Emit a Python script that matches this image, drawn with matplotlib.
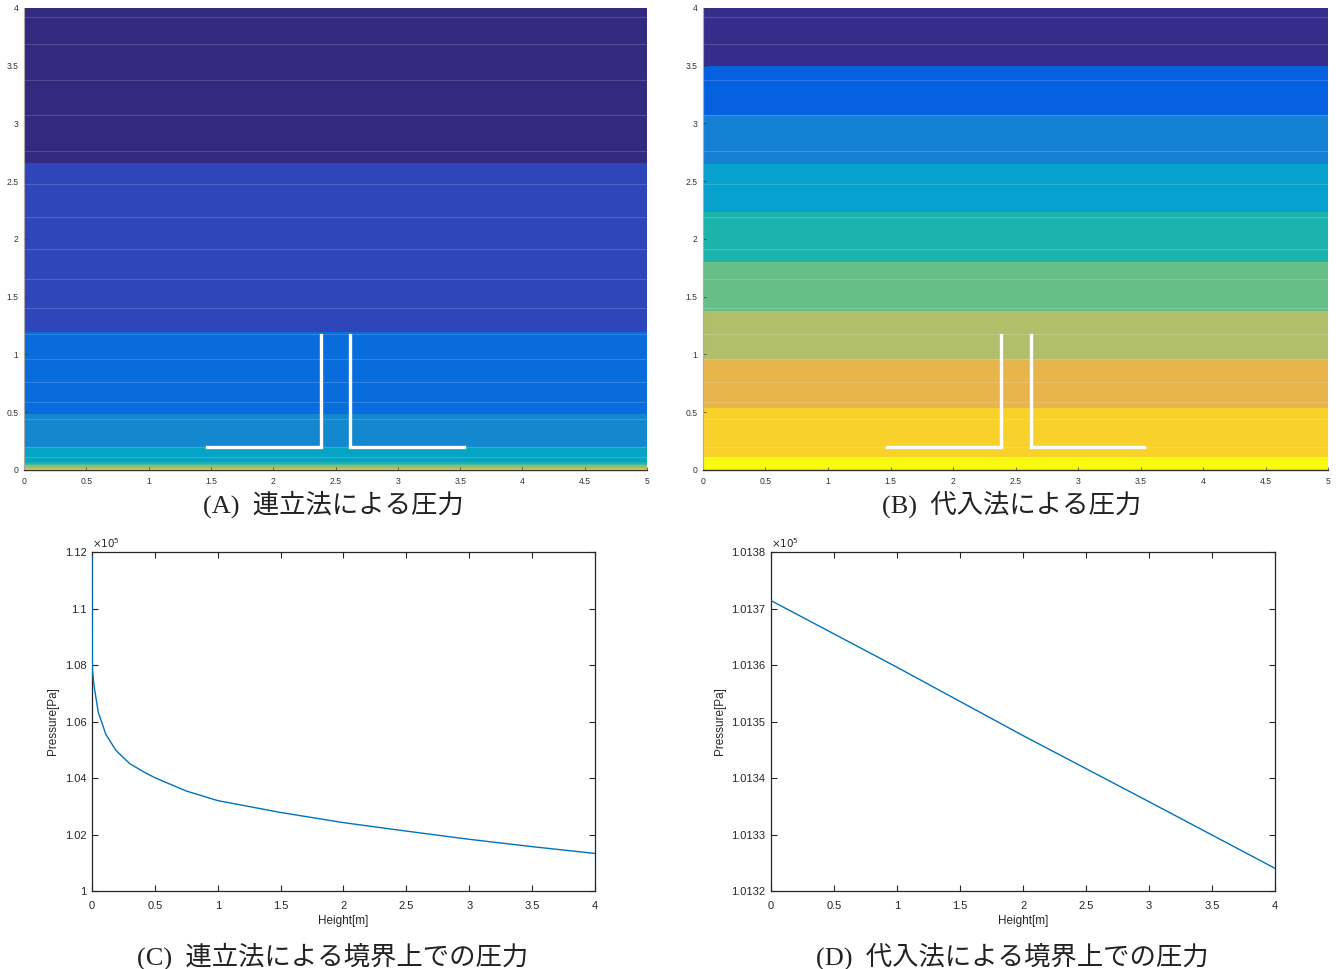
import matplotlib
matplotlib.use("Agg")
import matplotlib.pyplot as plt
from matplotlib.ticker import FuncFormatter, MultipleLocator

plt.rcParams['font.family'] = ['Liberation Sans', 'Noto Sans CJK JP', 'DejaVu Sans']

# ---- data ----
# (A) contour bands: edges in height [m] and band colours (bottom -> top)
a_edges = [0, 0.006, 0.017, 0.035, 0.052, 0.069, 0.2, 0.485, 1.195, 2.66, 4.0]
a_colors = ['#f0e23c', '#cfc25a', '#8fc07a', '#44b99c', '#1fb0b4',
            '#06a4c4', '#1488cf', '#086cdd', '#2e46b9', '#33297f']

# (B) contour bands
b_edges = [0, 0.11, 0.54, 0.96, 1.38, 1.80, 2.23, 2.65, 3.07, 3.50, 4.0]
b_colors = ['#f7f90f', '#f8d22a', '#e8b54c', '#b1be6a', '#66bf86',
            '#1db3ad', '#06a1cc', '#1480d3', '#0561e0', '#342d8a']

# faint mesh lines seen in both contour plots
mesh_y = [3.92, 3.69, 3.38, 3.07, 2.76, 2.48, 2.19, 1.91, 1.65, 1.40,
          1.18, 0.96, 0.76, 0.59, 0.44, 0.2, 0.11, 0.04]

# white structure (two L-shaped plates)
left_x = [1.47, 2.38, 2.38]
left_y = [0.2, 0.2, 1.17]
right_x = [3.53, 2.62, 2.62]
right_y = [0.2, 0.2, 1.17]

# (C) pressure on boundary, simultaneous method [Pa]
c_h = [0, 0.003, 0.016, 0.05, 0.11, 0.19, 0.30, 0.41, 0.5, 0.75,
       1.0, 1.5, 2.0, 2.5, 3.0, 3.5, 4.0]
c_p = [111860, 107860, 107270, 106330, 105550, 104980, 104510, 104220,
       104010, 103540, 103200, 102780, 102420, 102120, 101830, 101570, 101330]

# (D) pressure on boundary, substitution method [Pa]
d_h = [0, 1, 2, 3, 4]
d_p = [101371.4, 101359.6, 101347.5, 101335.8, 101324.0]

captions = ['(A)  連立法による圧力', '(B)  代入法による圧力',
            '(C)  連立法による境界上での圧力', '(D)  代入法による境界上での圧力']

fig = plt.figure(figsize=(13.37, 9.69), dpi=100)

gfmt = FuncFormatter(lambda v, p: '%g' % round(v, 6))


def contour_panel(rect, edges, colors):
    ax = fig.add_axes(rect)
    for lo, hi, c in zip(edges[:-1], edges[1:], colors):
        ax.axhspan(lo, hi, color=c, lw=0)
    for y in mesh_y:
        ax.axhline(y, color='white', alpha=0.16, lw=0.8)
    ax.plot(left_x, left_y, color='white', lw=2.4, solid_joinstyle='miter')
    ax.plot(right_x, right_y, color='white', lw=2.4, solid_joinstyle='miter')
    ax.set_xlim(0, 5)
    ax.set_ylim(0, 4)
    ax.xaxis.set_major_locator(MultipleLocator(0.5))
    ax.yaxis.set_major_locator(MultipleLocator(0.5))
    ax.xaxis.set_major_formatter(gfmt)
    ax.yaxis.set_major_formatter(gfmt)
    ax.tick_params(direction='in', length=2, width=0.5, labelsize=6.2,
                   colors='#333333')
    ax.tick_params(axis='x', pad=5)
    ax.tick_params(axis='y', pad=4)
    ax.spines['top'].set_visible(False)
    ax.spines['right'].set_visible(False)
    ax.spines['left'].set_color('#aaaaaa')
    ax.spines['bottom'].set_color('#333333')
    ax.spines['left'].set_linewidth(0.8)
    ax.spines['bottom'].set_linewidth(1.0)
    return ax


def line_panel(rect, h, p, ylo, yhi, ystep):
    ax = fig.add_axes(rect)
    ax.plot(h, [v / 1e5 for v in p], color='#0072bd', lw=1.0, zorder=3)
    ax.set_xlim(0, 4)
    ax.set_ylim(ylo, yhi)
    ax.xaxis.set_major_locator(MultipleLocator(0.5))
    ax.yaxis.set_major_locator(MultipleLocator(ystep))
    ax.xaxis.set_major_formatter(gfmt)
    ax.yaxis.set_major_formatter(gfmt)
    ax.tick_params(direction='in', length=4.5, width=0.8, labelsize=8,
                   colors='#262626', top=True, right=True)
    ax.tick_params(axis='x', pad=7)
    ax.tick_params(axis='y', pad=4)
    for s in ax.spines.values():
        s.set_color('#262626')
        s.set_linewidth(0.9)
    ax.set_xlabel('Height[m]', fontsize=8.5, color='#262626', labelpad=3)
    ax.set_ylabel('Pressure[Pa]', fontsize=8.5, color='#262626', labelpad=4)
    ax.text(0.0, 1.005, r'$\times10^{5}$', transform=ax.transAxes,
            fontsize=7.5, color='#262626', ha='left', va='bottom')
    return ax


contour_panel([0.01795, 0.5150, 0.466, 0.4768], a_edges, a_colors)
contour_panel([0.5258, 0.5150, 0.4675, 0.4768], b_edges, b_colors)
line_panel([0.0688, 0.0805, 0.3762, 0.3498], c_h, c_p, 1.0, 1.12, 0.02)
line_panel([0.5767, 0.0805, 0.3770, 0.3498], d_h, d_p, 1.0132, 1.0138, 0.0001)

cap_fam = ['Liberation Serif', 'Noto Sans CJK JP']
cap_pos = [(333, 504), (1012, 504), (333, 956), (1012, 956)]
for (px, py), txt in zip(cap_pos, captions):
    fig.text(px / 1337, 1 - py / 969, txt, fontsize=19, family=cap_fam,
             ha='center', va='center', color='#222222')

fig.savefig('out.png', dpi=100)
